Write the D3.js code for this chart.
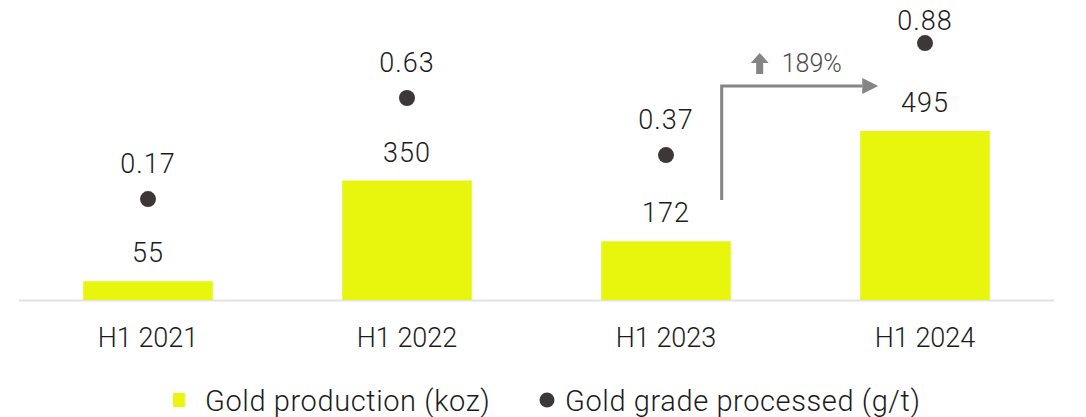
<!DOCTYPE html>
<html>
<head>
<meta charset="utf-8">
<script src="https://cdn.jsdelivr.net/npm/d3@7"></script>
<style>
  html, body { margin: 0; padding: 0; background: #ffffff; }
  svg { display: block; }
  text { font-family: Roboto, "Open Sans", sans-serif; font-weight: 300; }
</style>
</head>
<body>
<svg id="chart" width="1086" height="417"></svg>
<script>
// Half-year periods
const categories = ["H1 2021", "H1 2022", "H1 2023", "H1 2024"];
// Gold production, koz
const production = [55, 350, 172, 495];
// Gold grade processed, g/t
const grade = [0.17, 0.63, 0.37, 0.88];
// Year-on-year change highlighted between the last two periods
const changeLabel = "189%";
const legendLabels = ["Gold production (koz)", "Gold grade processed (g/t)"];

const barColor = "#e8f50c";
const dotColor = "#3e3737";
const textColor = "#1c1c1c";
const arrowColor = "#858585";

const svg = d3.select("#chart");

const x = d3.scaleBand()
  .domain(categories)
  .range([18.5, 1054.5])
  .paddingInner(0.5)
  .paddingOuter(0.25);

const yBar = d3.scaleLinear().domain([0, 500]).range([300, 129.3]);
const yDot = d3.scaleLinear().domain([0, 1]).range([236.4, 16.7]);

// Baseline
svg.append("line")
  .attr("x1", 19).attr("x2", 1054)
  .attr("y1", 300.5).attr("y2", 300.5)
  .attr("stroke", "#e3e3e3").attr("stroke-width", 2);

// Production bars
svg.selectAll("rect.bar")
  .data(production)
  .join("rect")
  .attr("class", "bar")
  .attr("x", (d, i) => x(categories[i]))
  .attr("width", x.bandwidth())
  .attr("y", d => yBar(d))
  .attr("height", d => yBar(0) - yBar(d))
  .attr("fill", barColor);

// Production value labels
svg.selectAll("text.barLabel")
  .data(production)
  .join("text")
  .attr("class", "barLabel")
  .attr("x", (d, i) => x(categories[i]) + x.bandwidth() / 2)
  .attr("y", d => yBar(d) - 19)
  .attr("text-anchor", "middle")
  .attr("font-size", 27)
  .attr("letter-spacing", 1)
  .attr("fill", textColor)
  .text(d => d);

// Grade dots
svg.selectAll("circle.dot")
  .data(grade)
  .join("circle")
  .attr("class", "dot")
  .attr("cx", (d, i) => x(categories[i]) + x.bandwidth() / 2)
  .attr("cy", d => yDot(d))
  .attr("r", 8)
  .attr("fill", dotColor);

// Grade value labels (kept inside the top edge)
svg.selectAll("text.dotLabel")
  .data(grade)
  .join("text")
  .attr("class", "dotLabel")
  .attr("x", (d, i) => x(categories[i]) + x.bandwidth() / 2)
  .attr("y", d => Math.max(yDot(d) - 26, 30))
  .attr("text-anchor", "middle")
  .attr("font-size", 27)
  .attr("letter-spacing", 1)
  .attr("fill", textColor)
  .text(d => d.toFixed(2));

// Category axis
const xAxis = svg.append("g")
  .attr("transform", "translate(0,300)")
  .call(d3.axisBottom(x).tickSize(0).tickPadding(0));
xAxis.select(".domain").remove();
xAxis.selectAll("text")
  .attr("y", 47)
  .attr("dy", 0)
  .attr("font-size", 27)
  .attr("fill", textColor)
  .style("font-family", "Roboto, sans-serif")
  .style("font-weight", 300);

// Change arrow from H1 2023 to H1 2024
const i23 = 2, i24 = 3;
const ax = x(categories[i23]) + x.bandwidth() * 0.93;
const ay0 = 200, ay1 = 86;
const axEnd = x(categories[i24]) + 2;
svg.append("path")
  .attr("d", `M${ax},${ay0} V${ay1} H${axEnd}`)
  .attr("fill", "none")
  .attr("stroke", arrowColor)
  .attr("stroke-width", 3);
svg.append("path")
  .attr("d", `M${axEnd},${ay1 - 8} L${axEnd + 16},${ay1} L${axEnd},${ay1 + 8} Z`)
  .attr("fill", arrowColor);

// Small up arrow icon and percentage
const ix = ax + 38;
svg.append("path")
  .attr("d", `M${ix},${53} L${ix + 9},${63} L${ix + 3.5},${63} L${ix + 3.5},${74} L${ix - 3.5},${74} L${ix - 3.5},${63} L${ix - 9},${63} Z`)
  .attr("fill", arrowColor);
svg.append("text")
  .attr("x", ix + 22)
  .attr("y", 72)
  .attr("font-size", 25)
  .attr("fill", "#4f4848")
  .text(changeLabel);

// Legend
const legend = svg.append("g");
legend.append("rect")
  .attr("x", 173).attr("y", 393)
  .attr("width", 12).attr("height", 14)
  .attr("fill", barColor);
legend.append("text")
  .attr("x", 205).attr("y", 411)
  .attr("font-size", 29)
  .attr("letter-spacing", 0.6)
  .attr("fill", textColor)
  .text(legendLabels[0]);
legend.append("circle")
  .attr("cx", 547).attr("cy", 400)
  .attr("r", 7.5)
  .attr("fill", dotColor);
legend.append("text")
  .attr("x", 565).attr("y", 411)
  .attr("font-size", 29)
  .attr("letter-spacing", 0.6)
  .attr("fill", textColor)
  .text(legendLabels[1]);
</script>
</body>
</html>
